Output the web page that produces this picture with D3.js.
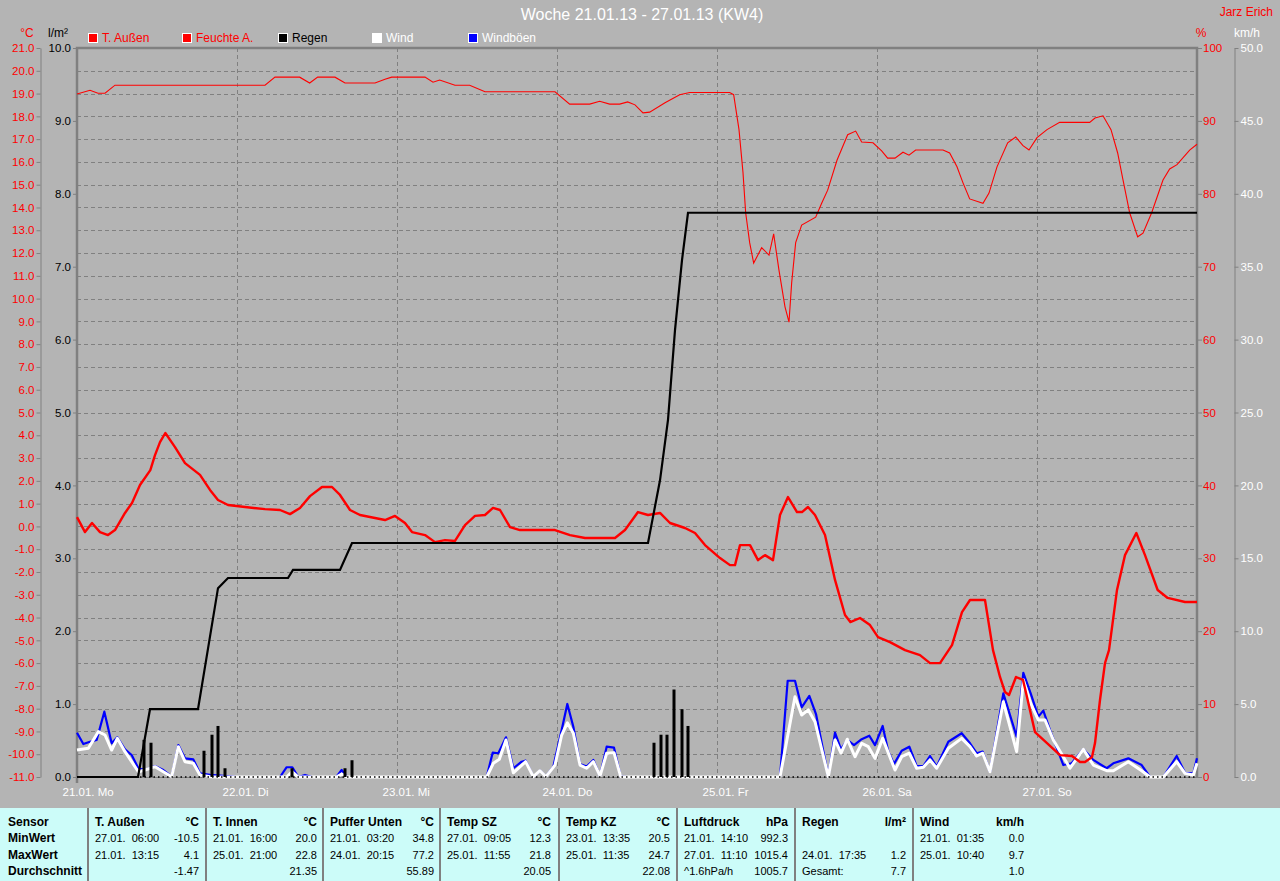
<!DOCTYPE html>
<html><head><meta charset="utf-8">
<script src="https://cdn.jsdelivr.net/npm/d3@7"></script>
<style>
body{margin:0;background:#b4b4b4;overflow:hidden}
svg{display:block;font-family:"Liberation Sans",Arial,sans-serif}
</style></head><body>
<svg id="c" width="1280" height="881"></svg>
<script>
// ---------- data (hours since 21.01. 00:00) ----------
const dayLabels = ["21.01. Mo","22.01. Di","23.01. Mi","24.01. Do","25.01. Fr","26.01. Sa","27.01. So"];
const dayHours = [0,24,48,72,96,120,144];

const tempOut = [[0,0.41],[1.2,-0.25],[2.25,0.15],[3.45,-0.25],[4.65,-0.38],[5.7,-0.16],[7.2,0.59],[8.25,1.03],[9.45,1.82],[11.0,2.47],[11.7,3.13],[12.45,3.7],[13.25,4.1],[14.7,3.48],[16.2,2.78],[18.45,2.26],[19.95,1.6],[21.15,1.16],[22.65,0.94],[25.2,0.85],[28.2,0.76],[30.45,0.72],[31.95,0.54],[33.45,0.81],[34.95,1.33],[36.75,1.73],[38.25,1.73],[39.45,1.38],[40.95,0.72],[42.45,0.5],[44.7,0.37],[46.2,0.28],[47.7,0.46],[49.2,0.15],[50.25,-0.25],[52.2,-0.38],[53.7,-0.69],[55.2,-0.6],[56.7,-0.64],[58.2,0.06],[59.7,0.46],[61.2,0.5],[62.4,0.81],[63.45,0.72],[64.95,-0.03],[66.45,-0.16],[71.7,-0.16],[73.95,-0.38],[76.2,-0.51],[80.7,-0.51],[82.2,-0.16],[84.15,0.63],[85.65,0.5],[87.45,0.59],[88.95,0.15],[91.2,-0.07],[92.7,-0.29],[94.2,-0.82],[96.45,-1.39],[97.95,-1.7],[98.7,-1.7],[99.45,-0.82],[100.95,-0.82],[102.15,-1.48],[103.2,-1.26],[104.4,-1.48],[105.45,0.5],[106.65,1.29],[108.0,0.63],[108.75,0.63],[109.65,0.85],[110.7,0.5],[112.2,-0.38],[113.7,-2.35],[115.2,-3.89],[116.0,-4.2],[117.45,-4.02],[118.95,-4.33],[120.15,-4.86],[121.95,-5.08],[124.2,-5.43],[126.45,-5.65],[127.95,-6.0],[129.45,-6.0],[131.25,-5.21],[132.75,-3.76],[133.95,-3.23],[136.2,-3.23],[137.4,-5.43],[138.45,-6.61],[139.2,-7.27],[139.8,-7.4],[140.85,-6.61],[141.9,-6.74],[142.5,-7.49],[143.7,-9.03],[145.5,-9.51],[147.45,-10.04],[149.25,-10.08],[150.45,-10.34],[151.2,-10.34],[152.25,-10.12],[152.7,-9.51],[153.45,-7.62],[154.2,-6.0],[154.8,-5.43],[156.0,-2.79],[157.2,-1.26],[158.9,-0.29],[160.2,-1.26],[162.1,-2.79],[163.6,-3.14],[166.2,-3.32],[168,-3.32]];

const humidity = [[0,93.7],[1.95,94.2],[3.15,93.8],[4.2,93.8],[5.7,94.9],[28.2,94.9],[29.7,96.0],[33.4,96.0],[34.9,95.2],[36.1,96.0],[38.7,96.0],[40.2,95.2],[44.7,95.2],[46.2,95.7],[47.2,96.0],[52.2,96.0],[53.4,95.3],[54.4,95.6],[56.7,94.9],[58.9,94.9],[61.2,94.0],[71.7,94.0],[73.9,92.3],[76.9,92.3],[78.4,92.7],[79.9,92.3],[81.4,92.3],[82.6,92.6],[83.7,92.2],[84.9,91.1],[85.9,91.2],[88.2,92.5],[90.4,93.6],[91.9,93.9],[97.9,93.9],[98.5,93.6],[99.3,88.8],[99.9,82.9],[100.3,77.4],[100.9,73.3],[101.5,70.5],[102.7,72.6],[103.8,71.6],[104.5,74.5],[105.3,69.5],[106.2,64.5],[106.8,62.4],[107.2,67.8],[107.8,73.3],[108.7,75.7],[110.8,76.8],[111.7,78.7],[112.6,80.5],[114.0,84.6],[115.6,88.1],[116.8,88.6],[117.7,87.1],[119.4,87.0],[120.7,85.9],[121.6,84.9],[122.7,84.9],[123.9,85.7],[124.8,85.3],[125.8,86.0],[129.9,86.0],[130.9,85.6],[132.0,83.7],[132.9,81.5],[133.9,79.3],[135.9,78.7],[136.8,80.1],[138.0,83.7],[139.6,87.0],[140.8,87.8],[141.9,86.6],[142.8,86.0],[144.0,87.7],[145.5,88.8],[147.4,89.8],[151.9,89.8],[152.7,90.4],[153.9,90.7],[155.1,88.8],[156.1,85.6],[156.9,81.9],[157.9,77.4],[159.1,74.1],[159.9,74.6],[161.2,77.4],[162.9,81.9],[163.9,83.4],[165.0,84.0],[166.9,86.0],[168,86.8]];

const rainTotal = [[0,0],[9.15,0],[10.95,0.93],[18.15,0.93],[21.15,2.59],[22.65,2.73],[31.65,2.73],[32.4,2.84],[39.45,2.84],[41.25,3.21],[85.65,3.21],[87.45,4.07],[88.65,4.9],[89.7,6.13],[90.75,7.09],[91.65,7.74],[168,7.74]];

const rainBars = [[10.05,0.51],[11.1,0.47],[19.05,0.36],[20.25,0.58],[21.15,0.7],[22.2,0.12],[32.25,0.12],[40.2,0.12],[41.25,0.23],[86.55,0.47],[87.6,0.58],[88.5,0.58],[89.55,1.2],[90.75,0.93],[91.65,0.7]];

const gusts = [[0,3.04],[0.95,2.26],[1.95,2.42],[2.95,2.54],[4.1,4.48],[5.2,2.31],[6.05,2.72],[7.2,1.9],[8.2,1.51],[9.2,0.6],[10.2,0.48],[11.7,0.75],[12.95,0.48],[14.2,0.02],[15.2,2.19],[16.2,1.28],[17.45,1.21],[18.45,0.25],[19.95,0.14],[22.45,0.07],[23.95,0],[30.45,0],[31.45,0.67],[32.3,0.67],[33.2,0],[34.2,0.14],[35.25,0],[38.9,0],[39.7,0.48],[40.45,0],[61.45,0],[62.35,1.67],[63.2,1.63],[64.35,2.72],[65.45,0.6],[66.7,1.05],[67.3,1.12],[68.45,0.02],[69.45,0.43],[70.35,0.02],[71.45,0.71],[72.7,3.22],[73.55,5.01],[74.45,3.45],[75.45,0.89],[76.45,0.71],[77.45,1.17],[78.45,0.07],[79.45,2.08],[80.55,2.01],[81.55,0.02],[82.5,0],[105.45,0],[106.6,6.6],[107.7,6.6],[108.7,4.78],[109.85,5.56],[110.85,4.32],[112.7,0.02],[113.7,3.04],[114.6,1.9],[115.55,2.54],[116.55,2.19],[117.7,2.59],[118.85,2.83],[119.7,2.19],[120.85,3.5],[121.7,1.74],[122.55,0.89],[123.7,1.8],[124.85,2.08],[125.95,0.75],[126.95,0.75],[127.95,1.44],[128.95,0.71],[130.7,2.42],[132.7,3.0],[133.95,2.31],[134.95,1.63],[135.85,1.74],[136.95,0.36],[138.95,5.74],[140.95,2.76],[141.95,7.15],[143.05,5.74],[144.2,4.14],[144.95,4.55],[145.95,3.22],[147.95,0.82],[149.2,0.94],[150.95,1.9],[152.45,1.17],[154.45,0.6],[155.45,0.94],[157.7,1.28],[159.7,0.82],[160.95,0],[162.95,0],[164.95,1.44],[166.2,0.29],[167.45,0.25],[168,1.28]];

const wind = [[0,1.85],[1.7,1.97],[3.2,3.11],[4.2,2.88],[5.2,1.85],[6.05,2.65],[7.2,1.74],[9.2,0.36],[10.2,0.48],[11.7,0.71],[12.95,0.36],[14.2,0.02],[15.2,2.08],[16.2,1.05],[17.45,0.94],[18.45,0.14],[19.95,0.02],[21.45,0],[31.45,0],[32.25,0.36],[33.15,0],[38.9,0],[39.7,0.2],[40.45,0],[61.45,0],[62.45,0.94],[63.35,1.21],[64.35,2.54],[65.45,0.29],[67.3,1.05],[68.45,0.02],[69.45,0.43],[70.35,0.02],[71.7,0.82],[72.7,2.88],[73.55,3.72],[74.45,3.0],[75.45,0.82],[76.45,0.6],[77.45,1.05],[78.45,0.07],[79.45,1.63],[80.55,1.67],[81.55,0.02],[82.5,0],[105.45,0],[107.7,5.51],[108.7,4.25],[109.7,4.6],[110.7,3.79],[112.7,0.02],[113.7,2.54],[114.6,1.63],[115.55,2.59],[116.7,1.39],[117.7,2.31],[118.7,2.08],[119.7,1.28],[120.85,2.65],[122.7,0.48],[123.7,1.39],[124.85,1.63],[125.95,0.6],[126.95,0.67],[127.95,1.17],[128.95,0.6],[130.7,1.97],[132.7,2.65],[133.95,2.08],[134.95,1.44],[135.85,1.63],[136.95,0.36],[138.95,5.16],[140.95,1.74],[141.95,6.65],[143.05,5.05],[144.2,3.91],[145.2,3.91],[146.45,2.54],[148.95,0.6],[150.95,1.9],[152.45,0.82],[154.45,0.43],[155.45,0.43],[157.7,1.05],[159.7,0.43],[160.95,0],[162.95,0],[164.95,1.05],[166.2,0.25],[167.45,0.14],[168,0.94]];

const tempTicks = d3.range(-11, 22, 1);
const rainTicks = d3.range(0, 11, 1);
const humTicks = d3.range(0, 101, 10);
const windTicks = d3.range(0, 51, 5);

const legendNames = ["T. Außen","Feuchte A.","Regen","Wind","Windböen"];
const legendFill = ["#ff0000","#ff0000","#000000","#ffffff","#0000ff"];
const legendText = ["#ff0000","#ff0000","#000000","#ffffff","#ffffff"];
const legendX = [88,182,278,372,468];

const sensors = ["T. Außen","T. Innen","Puffer Unten","Temp SZ","Temp KZ","Luftdruck","Regen","Wind"];
const units = ["°C","°C","°C","°C","°C","hPa","l/m²","km/h"];
const minTimes = ["27.01.  06:00","21.01.  16:00","21.01.  03:20","27.01.  09:05","23.01.  13:35","21.01.  14:10","","21.01.  01:35"];
const minVals = ["-10.5","20.0","34.8","12.3","20.5","992.3","","0.0"];
const maxTimes = ["21.01.  13:15","25.01.  21:00","24.01.  20:15","25.01.  11:55","25.01.  11:35","27.01.  11:10","24.01.  17:35","25.01.  10:40"];
const maxVals = ["4.1","22.8","77.2","21.8","24.7","1015.4","1.2","9.7"];
const avgNotes = ["","","","","","^1.6hPa/h","Gesamt:",""];
const avgVals = ["-1.47","21.35","55.89","20.05","22.08","1005.7","7.7","1.0"];
const rowLabels = ["Sensor","MinWert","MaxWert","Durchschnitt"];

// ---------- layout ----------
const W = 1280, H = 881;
const L = 77, R = 1197, T = 48, B = 777;
const GRAY = "#808080";
const svg = d3.select("#c");
svg.append("rect").attr("width", W).attr("height", H).attr("fill", "#b4b4b4");

const x = d3.scaleLinear().domain([0, 168]).range([L, R]);
const yT = d3.scaleLinear().domain([-11, 21]).range([B, T]);
const yR = d3.scaleLinear().domain([0, 10]).range([B, T]);
const yH = d3.scaleLinear().domain([0, 100]).range([B, T]);
const yW = d3.scaleLinear().domain([0, 50]).range([B, T]);

// grid
const grid = svg.append("g").attr("stroke", GRAY).attr("stroke-width", 1).attr("stroke-dasharray", "4,3");
grid.selectAll(".hg").data(tempTicks.filter(t => t > -11 && t < 21)).join("line")
  .attr("x1", L).attr("x2", R).attr("y1", d => Math.round(yT(d)) + 0.5).attr("y2", d => Math.round(yT(d)) + 0.5);
grid.selectAll(".vg").data(dayHours.slice(1)).join("line")
  .attr("x1", d => Math.round(x(d)) + 0.5).attr("x2", d => Math.round(x(d)) + 0.5).attr("y1", T).attr("y2", B);

function styleAxis(g, color, size) {
  g.attr("font-family", '"Liberation Sans", Arial, sans-serif').attr("font-size", size || 12);
  g.selectAll("text").attr("fill", color);
  g.selectAll("line").attr("stroke", GRAY);
  g.select(".domain").attr("stroke", GRAY);
}
const fmt1 = d => d.toFixed(1);

// °C axis
const gT = svg.append("g").attr("transform", "translate(40.5,0)")
  .call(d3.axisLeft(yT).tickValues(tempTicks).tickFormat(fmt1).tickSize(4).tickSizeOuter(0).tickPadding(2));
styleAxis(gT, "#ff0000", 11.5);
// l/m² axis
const gR = svg.append("g").attr("transform", `translate(${L},0)`)
  .call(d3.axisLeft(yR).tickValues(rainTicks).tickFormat(fmt1).tickSize(4).tickSizeOuter(0).tickPadding(2));
styleAxis(gR, "#000000", 11.5);
gR.select(".domain").remove();
// % axis
const gH = svg.append("g").attr("transform", `translate(${R},0)`)
  .call(d3.axisRight(yH).tickValues(humTicks).tickFormat(d => String(d)).tickSize(5).tickSizeOuter(0).tickPadding(1));
styleAxis(gH, "#ff0000", 11.5);
gH.select(".domain").remove();
// km/h axis
const gW = svg.append("g").attr("transform", "translate(1234.5,0)")
  .call(d3.axisRight(yW).tickValues(windTicks).tickFormat(fmt1).tickSize(4).tickSizeOuter(0).tickPadding(2));
styleAxis(gW, "#ffffff", 11.5);
// time axis labels
const gX = svg.append("g").attr("transform", `translate(0,${B})`)
  .call(d3.axisBottom(x).tickValues(dayHours).tickFormat((d, i) => dayLabels[i]).tickSize(0).tickPadding(11));
styleAxis(gX, "#ffffff", 11.5);
gX.select(".domain").remove();
gX.selectAll("text").attr("text-anchor", "start").attr("dx", -15);

// frame
svg.append("path").attr("fill", "none").attr("stroke", GRAY).attr("stroke-width", 2.5)
  .attr("d", `M${L},${B + 6}V${T}H${R}V${B}`);
svg.append("line").attr("x1", L).attr("x2", R).attr("y1", B + 0.5).attr("y2", B + 0.5).attr("stroke", GRAY).attr("stroke-width", 1);

// series
const lineOf = (ys) => d3.line().x(d => x(d[0])).y(d => ys(d[1]));
svg.append("path").datum(gusts).attr("fill", "none").attr("stroke", "#0000ff").attr("stroke-width", 2.2)
  .attr("stroke-linejoin", "round").attr("d", lineOf(yW));
svg.append("path").datum(wind).attr("fill", "none").attr("stroke", "#ffffff").attr("stroke-width", 3)
  .attr("stroke-linejoin", "round").attr("d", lineOf(yW));
svg.append("path").datum(humidity).attr("fill", "none").attr("stroke", "#ff0000").attr("stroke-width", 1.1)
  .attr("d", lineOf(yH));
svg.append("path").datum(tempOut).attr("fill", "none").attr("stroke", "#ff0000").attr("stroke-width", 2.4)
  .attr("stroke-linejoin", "round").attr("d", lineOf(yT));
svg.selectAll(".bar").data(rainBars).join("rect")
  .attr("x", d => x(d[0]) - 1.5).attr("width", 3)
  .attr("y", d => yR(d[1])).attr("height", d => yR(0) - yR(d[1])).attr("fill", "#000");
svg.append("path").datum(rainTotal).attr("fill", "none").attr("stroke", "#000000").attr("stroke-width", 2.2)
  .attr("d", lineOf(yR));
// dotted baseline
svg.append("line").attr("x1", L).attr("x2", R).attr("y1", B).attr("y2", B)
  .attr("stroke", "#000").attr("stroke-width", 1.5).attr("stroke-dasharray", "1.5,3");

// titles
svg.append("text").attr("x", 642).attr("y", 20).attr("text-anchor", "middle").attr("fill", "#ffffff")
  .attr("font-size", 16).text("Woche 21.01.13 - 27.01.13 (KW4)");
svg.append("text").attr("x", 1273).attr("y", 16).attr("text-anchor", "end").attr("fill", "#ff0000")
  .attr("font-size", 12).text("Jarz Erich");
svg.append("text").attr("x", 27).attr("y", 37).attr("text-anchor", "middle").attr("fill", "#ff0000").attr("font-size", 12).text("°C");
svg.append("text").attr("x", 58).attr("y", 37).attr("text-anchor", "middle").attr("fill", "#000").attr("font-size", 12).text("l/m²");
svg.append("text").attr("x", 1201).attr("y", 37).attr("text-anchor", "middle").attr("fill", "#ff0000").attr("font-size", 12).text("%");
svg.append("text").attr("x", 1247).attr("y", 37).attr("text-anchor", "middle").attr("fill", "#ffffff").attr("font-size", 12).text("km/h");

// legend
const lg = svg.append("g");
lg.selectAll("rect").data(legendNames).join("rect")
  .attr("x", (d, i) => legendX[i] + 0.5).attr("y", 33.5).attr("width", 9).attr("height", 9)
  .attr("fill", (d, i) => legendFill[i]).attr("stroke", "#fff").attr("stroke-width", 1);
lg.selectAll("text").data(legendNames).join("text")
  .attr("x", (d, i) => legendX[i] + 14).attr("y", 42).attr("font-size", 12)
  .attr("fill", (d, i) => legendText[i]).text(d => d);

// table
const tb = svg.append("g");
tb.append("rect").attr("x", 0).attr("y", 808).attr("width", W).attr("height", H - 808).attr("fill", "#ccfcf9");
const colStart = [88, 206, 323, 440, 559, 677, 795, 913];
const colW = 118;
const rowY = [826, 842, 859, 875];
tb.selectAll(".sep").data(colStart).join("line")
  .attr("x1", d => d).attr("x2", d => d).attr("y1", 808).attr("y2", H)
  .attr("stroke", GRAY).attr("stroke-width", 2);
tb.selectAll(".rl").data(rowLabels).join("text")
  .attr("x", 8).attr("y", (d, i) => rowY[i]).attr("font-size", 12).attr("font-weight", "bold").text(d => d);
sensors.forEach((s, i) => {
  const x0 = colStart[i] + 7, x1 = colStart[i] + colW - 7;
  const addL = (txt, r, bold) => tb.append("text").attr("x", x0).attr("y", rowY[r])
    .attr("font-size", bold ? 12 : 11).attr("font-weight", bold ? "bold" : "normal")
    .style("white-space", "pre").text(txt);
  const addR = (txt, r, bold) => tb.append("text").attr("x", x1).attr("y", rowY[r]).attr("text-anchor", "end")
    .attr("font-size", bold ? 12 : 11).attr("font-weight", bold ? "bold" : "normal").text(txt);
  addL(s, 0, true); addR(units[i], 0, true);
  addL(minTimes[i], 1); addR(minVals[i], 1);
  addL(maxTimes[i], 2); addR(maxVals[i], 2);
  addL(avgNotes[i], 3); addR(avgVals[i], 3);
});
</script>
</body></html>
